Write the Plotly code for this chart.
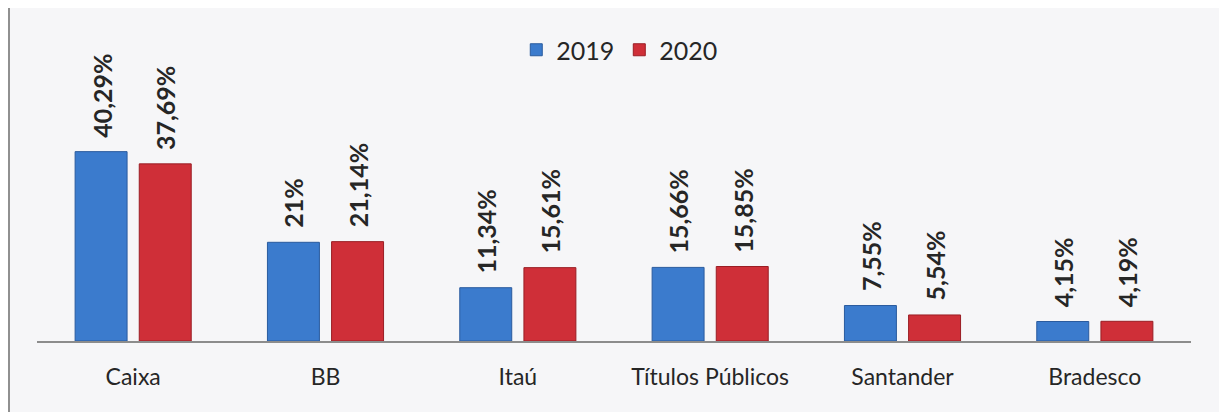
import plotly.graph_objects as go

categories = ["Caixa", "BB", "Itaú", "Títulos Públicos", "Santander", "Bradesco"]
values_2019 = [40.29, 21.00, 11.34, 15.66, 7.55, 4.15]
values_2020 = [37.69, 21.14, 15.61, 15.85, 5.54, 4.19]
labels_2019 = ["40,29%", "21%", "11,34%", "15,66%", "7,55%", "4,15%"]
labels_2020 = ["37,69%", "21,14%", "15,61%", "15,85%", "5,54%", "4,19%"]
series_names = ["2019", "2020"]

FONT = "Lato"
# page body has an 8px margin; figure coordinates are offset accordingly
W, H = 1219, 404
L, R, T, B = 29, 36, 2, 71
pw, ph = W - L - R, H - T - B
axis_y = H - B  # figure px of baseline

fig = go.Figure()
fig.add_trace(go.Bar(
    name=series_names[0], x=categories, y=values_2019,
    marker=dict(color="#3b7bcd", line=dict(color="#2a5b9e", width=1)),
    offsetgroup="a",
))
fig.add_trace(go.Bar(
    name=series_names[1], x=categories, y=values_2020,
    marker=dict(color="#cf2f38", line=dict(color="#9a1e24", width=1)),
    offsetgroup="b",
))

ann = []
for vals, labs, shift in ((values_2019, labels_2019, -32), (values_2020, labels_2020, 32)):
    for c, v, t in zip(categories, vals, labs):
        ann.append(dict(
            x=c, y=v, xref="x", yref="y", text=t, showarrow=False,
            textangle=-90, xanchor="center", yanchor="bottom", xshift=shift, yshift=12,
            font=dict(family=FONT, size=25, color="#262626", weight="bold"),
        ))

fig.update_layout(
    width=W, height=H,
    margin=dict(l=L, r=R, t=T, b=B),
    paper_bgcolor="#f6f6f8", plot_bgcolor="#f6f6f8",
    barmode="group", bargap=0.333, bargroupgap=0.19,
    font=dict(family=FONT, color="#262626"),
    showlegend=True,
    legend=dict(orientation="h", x=0.505, xanchor="center", y=(axis_y - 42) / ph,
                yanchor="middle", yref="paper",
                font=dict(family=FONT, size=25, color="#262626"),
                bgcolor="rgba(0,0,0,0)", itemwidth=30, traceorder="normal"),
    xaxis=dict(showline=True, linecolor="#8c8c8c", linewidth=1.5, showgrid=False,
               ticks="", tickfont=dict(family=FONT, size=23, color="#262626"),
               ticklabelstandoff=15, fixedrange=True),
    yaxis=dict(range=[0, ph / 4.7], visible=False, showgrid=False, zeroline=False),
    annotations=ann,
)

ytop = (axis_y - 0) / ph
ybot = (axis_y - H) / ph
for xp in (1, 1213):
    xr = (xp - L) / pw
    fig.add_shape(type="line", xref="paper", yref="paper", x0=xr, x1=xr, y0=ybot, y1=ytop,
                  line=dict(color="#6e6e6e", width=1.5))

fig.write_html("out.html")
